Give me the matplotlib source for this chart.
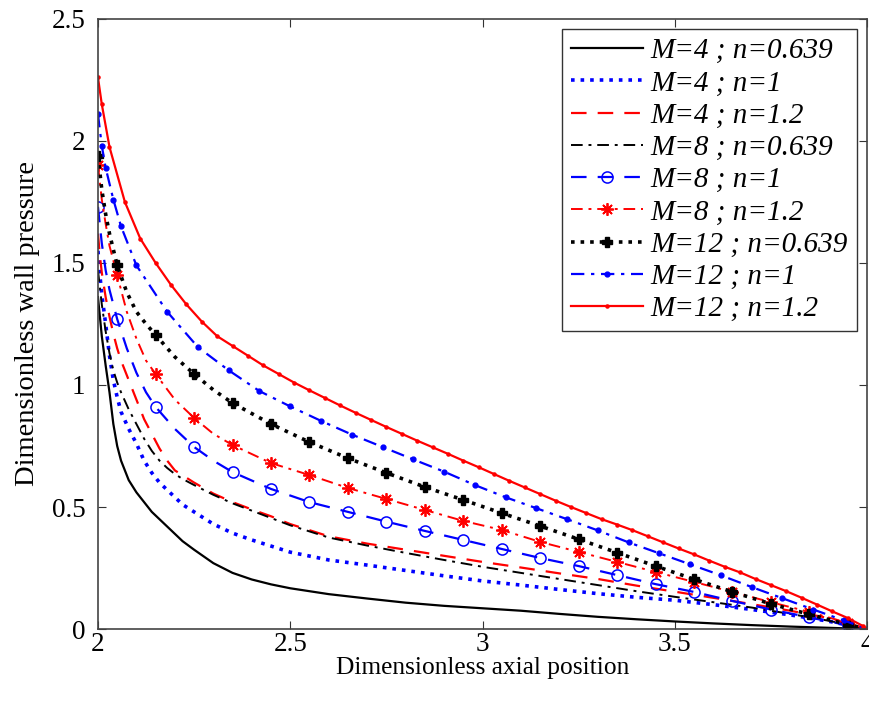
import numpy as np
import matplotlib.pyplot as plt

plt.rcParams['font.family'] = ['Liberation Serif', 'DejaVu Serif']

# grid for the curves without markers
x_a = [2.0, 2.005, 2.01, 2.02, 2.03, 2.04, 2.05, 2.06, 2.08, 2.1, 2.12, 2.14, 2.16, 2.18,
       2.2, 2.22, 2.25, 2.3, 2.35, 2.4, 2.45, 2.5, 2.6, 2.7, 2.8, 2.9, 3.0, 3.1, 3.2,
       3.3, 3.4, 3.5, 3.6, 3.7, 3.8, 3.9, 4.0]
m4_n0639 = [1.36, 1.28, 1.20, 1.08, 0.97, 0.84, 0.75, 0.69, 0.61, 0.56, 0.52, 0.48, 0.45, 0.42,
            0.39, 0.36, 0.325, 0.27, 0.23, 0.203, 0.183, 0.167, 0.143, 0.125, 0.108, 0.095,
            0.085, 0.075, 0.062, 0.05, 0.04, 0.031, 0.023, 0.016, 0.01, 0.005, 0.0]
m4_n1 = [1.55, 1.45, 1.37, 1.25, 1.12, 1.02, 0.95, 0.89, 0.82, 0.76, 0.69, 0.64, 0.60, 0.57,
         0.54, 0.51, 0.48, 0.43, 0.393, 0.365, 0.34, 0.315, 0.283, 0.262, 0.24, 0.218,
         0.197, 0.18, 0.162, 0.145, 0.13, 0.118, 0.1, 0.08, 0.058, 0.032, 0.0]
m4_n12 = [1.62, 1.53, 1.46, 1.36, 1.28, 1.21, 1.15, 1.10, 1.02, 0.94, 0.86, 0.80, 0.74, 0.69,
          0.65, 0.63, 0.60, 0.555, 0.52, 0.49, 0.462, 0.43, 0.38, 0.35, 0.325, 0.30,
          0.275, 0.252, 0.228, 0.205, 0.178, 0.153, 0.128, 0.102, 0.075, 0.045, 0.0]
m8_n0639 = [1.47, 1.40, 1.33, 1.22, 1.13, 1.06, 1.01, 0.97, 0.90, 0.84, 0.78, 0.73, 0.69, 0.66,
            0.635, 0.615, 0.59, 0.55, 0.515, 0.485, 0.455, 0.425, 0.375, 0.342, 0.312, 0.283,
            0.255, 0.23, 0.205, 0.18, 0.155, 0.132, 0.11, 0.088, 0.062, 0.034, 0.0]

# grid for curves with markers every 0.1
x_b = [2.0, 2.01, 2.02, 2.03, 2.05, 2.075, 2.1, 2.125, 2.15, 2.2, 2.25, 2.3, 2.35, 2.45,
       2.55, 2.65, 2.75, 2.85, 2.95, 3.05, 3.15, 3.25, 3.35, 3.45, 3.55, 3.65, 3.75, 3.85,
       3.95, 4.0]
mark_b = [0, 4, 8, 10, 12] + list(range(13, 29))
m8_n1 = [1.73, 1.58, 1.47, 1.39, 1.27, 1.15, 1.05, 0.97, 0.91, 0.82, 0.746, 0.69, 0.643, 0.574,
         0.52, 0.48, 0.44, 0.402, 0.365, 0.328, 0.291, 0.258, 0.221, 0.184, 0.152, 0.115,
         0.08, 0.048, 0.015, 0.0]
m8_n12 = [1.90, 1.76, 1.66, 1.57, 1.45, 1.30, 1.19, 1.10, 1.045, 0.94, 0.865, 0.80, 0.754, 0.68,
          0.631, 0.578, 0.533, 0.488, 0.443, 0.406, 0.357, 0.316, 0.275, 0.234, 0.193, 0.152,
          0.11, 0.07, 0.025, 0.0]
m12_n0639 = [1.94, 1.80, 1.70, 1.62, 1.49, 1.38, 1.30, 1.25, 1.205, 1.115, 1.045, 0.98, 0.926,
             0.84, 0.766, 0.70, 0.64, 0.582, 0.529, 0.475, 0.422, 0.368, 0.313, 0.258, 0.204,
             0.152, 0.103, 0.06, 0.018, 0.0]

# M=12 n=1, dots every 0.08
x_c = [2.0, 2.01, 2.02, 2.04, 2.06, 2.1, 2.18, 2.26, 2.34, 2.42, 2.5, 2.58, 2.66, 2.74, 2.82,
       2.9, 2.98, 3.06, 3.14, 3.22, 3.3, 3.38, 3.46, 3.54, 3.62, 3.7, 3.78, 3.86, 3.94, 4.0]
m12_n1 = [2.11, 1.98, 1.89, 1.76, 1.65, 1.49, 1.30, 1.155, 1.06, 0.975, 0.912, 0.853, 0.797,
          0.746, 0.695, 0.645, 0.59, 0.54, 0.495, 0.45, 0.404, 0.355, 0.31, 0.265, 0.22,
          0.172, 0.126, 0.08, 0.035, 0.0]

# M=12 n=1.2, dots every 0.04
x_d = [2.0, 2.01, 2.03, 2.07, 2.11, 2.15, 2.19, 2.23, 2.27, 2.31, 2.35, 2.39,
       2.43, 2.47, 2.51, 2.55, 2.59, 2.63, 2.67, 2.71, 2.75, 2.79,
       2.83, 2.87, 2.91, 2.95, 2.99, 3.03, 3.07, 3.11, 3.15, 3.19,
       3.23, 3.27, 3.31, 3.35, 3.39, 3.43, 3.47, 3.51, 3.55, 3.59,
       3.63, 3.67, 3.71, 3.75, 3.79, 3.83, 3.87, 3.91, 3.95, 3.99, 4.0]
m12_n12 = [2.26, 2.15, 1.975, 1.75, 1.60, 1.50, 1.41, 1.33, 1.26, 1.20, 1.16, 1.12,
           1.08, 1.045, 1.01, 0.978, 0.947, 0.916, 0.886, 0.857, 0.828, 0.80,
           0.772, 0.745, 0.718, 0.69, 0.663, 0.635, 0.607, 0.58, 0.553, 0.526,
           0.50, 0.475, 0.45, 0.428, 0.405, 0.38, 0.355, 0.33, 0.306, 0.28,
           0.255, 0.232, 0.205, 0.18, 0.155, 0.128, 0.10, 0.072, 0.045, 0.012, 0.0]

labels = ['M=4 ; n=0.639', 'M=4 ; n=1', 'M=4 ; n=1.2', 'M=8 ; n=0.639', 'M=8 ; n=1',
          'M=8 ; n=1.2', 'M=12 ; n=0.639', 'M=12 ; n=1', 'M=12 ; n=1.2']

fig = plt.figure(figsize=(8.7, 7.09), dpi=100)
ax = fig.add_axes([0.1126, 0.1128, 0.884, 0.8605])

ax.plot(x_a, m4_n0639, '-', color='black', lw=1.6, label=labels[0])
ax.plot(x_a, m4_n1, ':', color='blue', lw=2.6, label=labels[1])
ax.plot(x_a, m4_n12, '--', color='red', lw=1.6, dashes=(7, 5), label=labels[2])
ax.plot(x_a, m8_n0639, '-.', color='black', lw=1.4, dashes=(6, 3, 1.5, 3), label=labels[3])
ax.plot(x_b, m8_n1, '--', color='blue', lw=1.6, dashes=(7, 5), marker='o', ms=8,
        mfc='none', mew=1.1, markevery=mark_b, label=labels[4])
ax.plot(x_b, m8_n12, '-.', color='red', lw=1.4, dashes=(6, 3, 1.5, 3), marker=(8, 2, 0),
        ms=9, mew=1.3, markevery=mark_b, label=labels[5])
ax.plot(x_b, m12_n0639, ':', color='black', lw=2.6, marker='P', ms=7,
        markevery=mark_b, label=labels[6])
ax.plot(x_c, m12_n1, '-.', color='blue', lw=1.6, dashes=(6, 3, 1.5, 3), marker='.', ms=7,
        label=labels[7])
ax.plot(x_d, m12_n12, '-', color='red', lw=1.6, marker='.', ms=4.5, label=labels[8])

ax.set_xlim(2, 4)
ax.set_ylim(0, 2.5)
ax.set_xticks([2, 2.5, 3, 3.5, 4])
ax.set_xticklabels(['2', '2.5', '3', '3.5', '4'])
ax.set_yticks([0, 0.5, 1, 1.5, 2, 2.5])
ax.set_yticklabels(['0', '0.5', '1', '1.5', '2', '2.5'])
ax.tick_params(direction='in', top=True, right=True, labelsize=19.5, length=6,
               color='#333333')
ax.tick_params(axis='x', pad=2)
ax.tick_params(axis='y', pad=9)
for s in ax.spines.values():
    s.set_color('#444444')
    s.set_linewidth(1.2)

ax.set_xlabel('Dimensionless axial position', fontsize=18.3, labelpad=0)
ax.set_ylabel('Dimensionless wall pressure', fontsize=20.5, labelpad=8)

leg = ax.legend(loc='upper right', numpoints=1, handlelength=2.5, handletextpad=0.25,
                borderaxespad=0.35, borderpad=0.3, labelspacing=0.2, fancybox=False,
                framealpha=1, edgecolor='#333333', prop={'size': 21, 'style': 'italic'})
leg.get_frame().set_linewidth(1.0)

fig.savefig('out.png', dpi=100)
